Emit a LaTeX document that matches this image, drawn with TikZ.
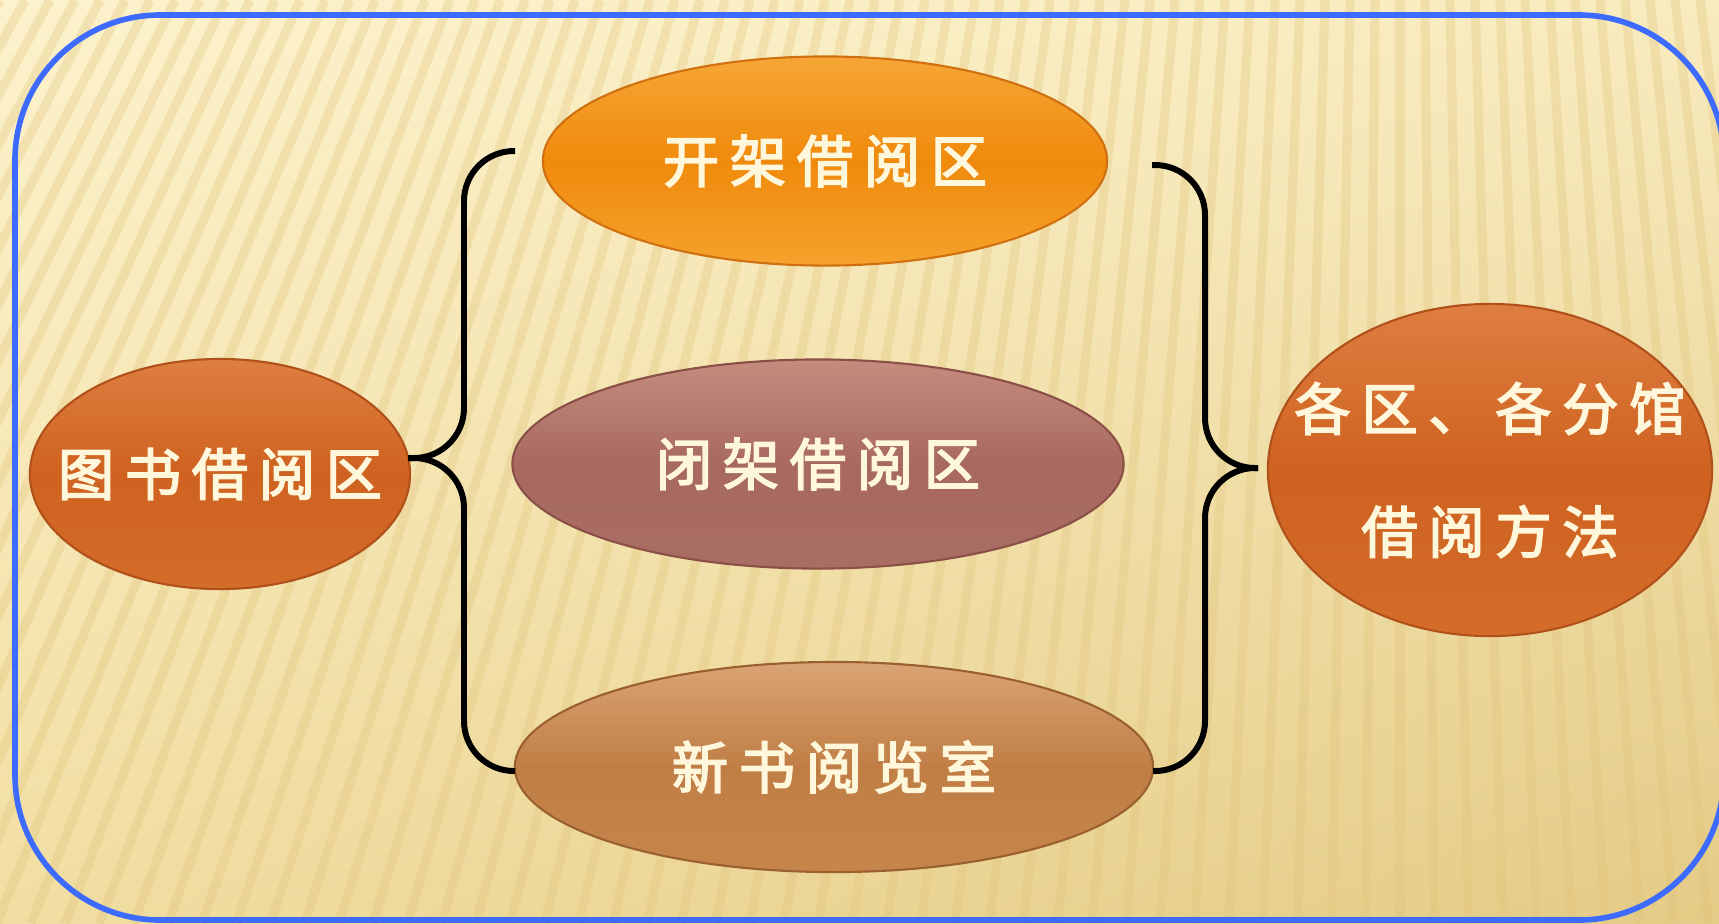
\documentclass[tikz,border=0pt]{standalone}
\usepackage{fontspec}
\usetikzlibrary{shapes.geometric,shadings}
\newfontfamily\cjk[LetterSpace=19,FakeBold=3]{Noto Sans CJK SC}
\definecolor{bgTL}{HTML}{FCF2CC}
\definecolor{bgTR}{HTML}{F8EBBE}
\definecolor{bgBL}{HTML}{F1DEA2}
\definecolor{bgBR}{HTML}{E4CB86}
\definecolor{stripe}{HTML}{E0C278}
\definecolor{frameblue}{HTML}{3D6BFF}
\definecolor{cream}{HTML}{FFF7DC}
\definecolor{rustT}{HTML}{DE7E40}
\definecolor{rustM}{HTML}{CF6220}
\definecolor{rustB}{HTML}{D46C2A}
\definecolor{rustD}{HTML}{B0501A}
\definecolor{ambT}{HTML}{F6A636}
\definecolor{ambM}{HTML}{F08A0C}
\definecolor{ambB}{HTML}{F5A22C}
\definecolor{ambD}{HTML}{D07010}
\definecolor{mauT}{HTML}{C58C7E}
\definecolor{mauM}{HTML}{A8695F}
\definecolor{mauB}{HTML}{A96D63}
\definecolor{mauD}{HTML}{8A5048}
\definecolor{tanT}{HTML}{DAA474}
\definecolor{tanM}{HTML}{C07E45}
\definecolor{tanB}{HTML}{C5854B}
\definecolor{tanD}{HTML}{9A6030}
\begin{document}
\begin{tikzpicture}[x=0.01cm, y=-0.01cm,
    area/.style={ellipse, inner sep=0pt, line width=0.6pt},
    lbl/.style={text=cream, font=\cjk\fontsize{16pt}{35pt}\selectfont, align=center},
    brace/.style={line width=1.7pt, rounded corners=0.5cm}]
    \useasboundingbox (0,0) rectangle (1719,923);
    \clip (0,0) rectangle (1719,923);
    \shade[upper left=bgTL, upper right=bgTR, lower left=bgBL, lower right=bgBR] (0,0) rectangle (1719,923);
    \foreach \s in {-4,...,76} {
      \draw[stripe, line width=2.6pt, opacity=0.3] (\s*25,0) -- ({1400+1.369*(\s*25-1400)},923);
    }
    \draw[frameblue, line width=1.6pt, rounded corners=1.45cm] (15,15) rectangle (1724,920);

    \node[area, top color=rustT, bottom color=rustB, middle color=rustM, draw=rustD,
      minimum width=3.8cm, minimum height=2.3cm, label={[lbl]center:图书借阅区}] (lib) at (220,474) {};
    \node[area, top color=ambT, bottom color=ambB, middle color=ambM, draw=ambD,
      minimum width=5.64cm, minimum height=2.09cm, label={[lbl]center:开架借阅区}] (open) at (825,161) {};
    \node[area, top color=mauT, bottom color=mauB, middle color=mauM, draw=mauD,
      minimum width=6.11cm, minimum height=2.09cm, label={[lbl]center:闭架借阅区}] (closed) at (818,464) {};
    \node[area, top color=tanT, bottom color=tanB, middle color=tanM, draw=tanD,
      minimum width=6.38cm, minimum height=2.1cm, label={[lbl]center:新书阅览室}] (newbook) at (834,767) {};
    \node[area, top color=rustT, bottom color=rustB, middle color=rustM, draw=rustD,
      minimum width=4.44cm, minimum height=3.32cm, label={[lbl]center:各区、各分馆\\借阅方法}] (method) at (1490,470) {};

    % braces
    \coordinate (lt) at (515,151);
    \coordinate (lb) at (515,771);
    \coordinate (lmid) at (464,458);
    \coordinate (ltip) at (408,458);
    \coordinate (rt) at (1152,165);
    \coordinate (rb) at (1153,771);
    \coordinate (rmid) at (1205,468);
    \coordinate (rtip) at (1258,468);
    \draw[brace] (lt) -| (lmid) -- (ltip);
    \draw[brace] (ltip) -- (lmid) |- (lb);
    \draw[brace] (rt) -| (rmid) -- (rtip);
    \draw[brace] (rtip) -- (rmid) |- (rb);
  \end{tikzpicture}
\end{document}
